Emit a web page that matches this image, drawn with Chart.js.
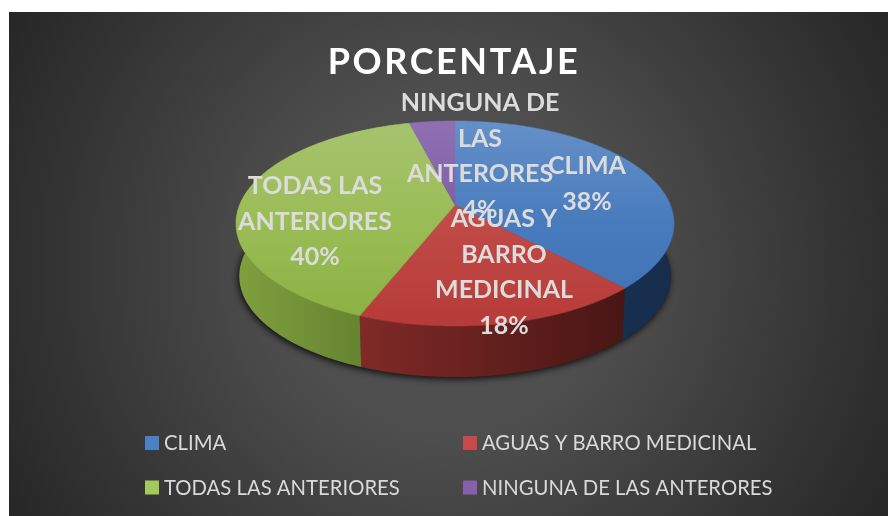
<!DOCTYPE html>
<html><head><meta charset="utf-8">
<style>html,body{margin:0;padding:0;background:#fff;overflow:hidden}canvas{display:block}</style>
<script src="https://cdn.jsdelivr.net/npm/chart.js@4/dist/chart.umd.min.js"></script>
</head><body>
<canvas id="c" width="888" height="516"></canvas>
<script>
const titleText = 'PORCENTAJE';
const categories = ['CLIMA', 'AGUAS Y BARRO MEDICINAL', 'TODAS LAS ANTERIORES', 'NINGUNA DE LAS ANTERORES'];
const values = [38, 18, 40, 4];
const labelLines = [['CLIMA'], ['AGUAS Y', 'BARRO', 'MEDICINAL'], ['TODAS LAS', 'ANTERIORES'], ['NINGUNA DE', 'LAS', 'ANTERORES']];
const swatchColors = ['#4a80c4', '#c8494a', '#a3c95c', '#8460ad'];
const topColors = [['#6590c8', '#487bbd', '#3d72b5'], ['#cc605c', '#c04a46', '#b73b38'], ['#a6c46f', '#9abc55', '#8cb043'], ['#8f71b2', '#7f5ba4', '#78519d']];
const wallColors = [['#1d3759', '#162d4c'], ['#802a27', '#481614'], ['#80a03e', '#5d782a'], ['#5a4075', '#4a3362']];
const labelCenters = [[587, 166], [504, 219], [315, 186], [480, 103]];
const legendPos = [[145, 443.5], [463, 443.5], [145, 488], [463, 488]];
const LINE = 35.5;

const P = {cx: 455, ay: 205, A: 215.4, B: 99.2, k: 0.1805, depthY: 52.8, depthS: 0.985};
function proj(theta, bottom) {
  const s = Math.sin(theta), c = Math.cos(theta), w = 1 + P.k * c;
  const x = P.A * s / w, y = -P.B * c / w;
  return bottom ? [P.cx + x * P.depthS, P.ay + P.depthY + y * P.depthS] : [P.cx + x, P.ay + y];
}
function arcPts(a0, a1, bottom) {
  const n = Math.max(2, Math.ceil((a1 - a0) / 0.01)), pts = [];
  for (let i = 0; i <= n; i++) pts.push(proj(a0 + (a1 - a0) * i / n, bottom));
  return pts;
}
function poly(ctx, pts) {
  ctx.beginPath();
  pts.forEach((p, i) => i ? ctx.lineTo(p[0], p[1]) : ctx.moveTo(p[0], p[1]));
  ctx.closePath();
}
const pie3d = {
  id: 'pie3d',
  beforeDraw(chart) {
    const ctx = chart.ctx;
    ctx.fillStyle = '#fff';
    ctx.fillRect(0, 0, 888, 516);
    const g = ctx.createRadialGradient(449, 264, 0, 449, 264, 510);
    g.addColorStop(0, '#565656');
    g.addColorStop(0.35, '#4d4d4d');
    g.addColorStop(1, '#262626');
    ctx.fillStyle = g;
    ctx.fillRect(9, 12, 879, 504);
    ctx.letterSpacing = '2.6px';
  },
  beforeDatasetsDraw(chart) {
    const ctx = chart.ctx;
    ctx.letterSpacing = '0px';
    const arcs = chart.getDatasetMeta(0).data;
    const span = arcs.map(a => [a.startAngle + Math.PI / 2, a.endAngle + Math.PI / 2]);
    ctx.save();
    ctx.shadowColor = 'rgba(0,0,0,0.85)';
    ctx.shadowBlur = 7;
    ctx.shadowOffsetX = -1;
    ctx.shadowOffsetY = 2;
    ctx.fillStyle = '#222';
    poly(ctx, arcPts(0, Math.PI * 2, true));
    ctx.fill();
    ctx.restore();
    span.forEach((s, i) => {
      const top = arcPts(s[0], s[1], false), bot = arcPts(s[0], s[1], true);
      const xs = top.concat(bot).map(p => p[0]);
      const g = ctx.createLinearGradient(Math.min(...xs), 0, Math.max(...xs), 0);
      g.addColorStop(0, wallColors[i][0]);
      g.addColorStop(1, wallColors[i][1]);
      ctx.fillStyle = g;
      poly(ctx, top.concat(bot.reverse()));
      ctx.fill();
    });
    span.forEach((s, i) => {
      const g = ctx.createLinearGradient(0, 121, 0, 326);
      g.addColorStop(0, topColors[i][0]);
      g.addColorStop(0.5, topColors[i][1]);
      g.addColorStop(1, topColors[i][2]);
      ctx.fillStyle = g;
      ctx.strokeStyle = g;
      ctx.lineWidth = 0.5;
      poly(ctx, [[P.cx, P.ay]].concat(arcPts(s[0], s[1], false)));
      ctx.fill();
      ctx.stroke();
    });
    return false;
  },
  afterDraw(chart) {
    const ctx = chart.ctx;
    const total = values.reduce((a, b) => a + b, 0);
    ctx.save();
    ctx.textAlign = 'center';
    ctx.textBaseline = 'middle';
    ctx.font = 'bold 25px Lato';
    ctx.fillStyle = '#dcdcdc';
    [3, 0, 1, 2].forEach(i => {
      const lines = labelLines[i].concat(Math.round(values[i] / total * 100) + '%');
      lines.forEach((t, j) => ctx.fillText(t, labelCenters[i][0], labelCenters[i][1] + j * LINE));
    });
    ctx.textAlign = 'left';
    ctx.font = '20.3px Lato';
    categories.forEach((t, i) => {
      const [x, y] = legendPos[i];
      ctx.fillStyle = swatchColors[i];
      ctx.fillRect(x, y - 7.5, 14, 14);
      ctx.fillStyle = '#d9d9d9';
      ctx.fillText(t, x + 19, y);
    });
    ctx.restore();
  }
};
new Chart(document.getElementById('c'), {
  type: 'pie',
  data: {labels: categories, datasets: [{data: values, backgroundColor: swatchColors, borderWidth: 0}]},
  options: {
    responsive: false,
    animation: false,
    layout: {padding: {left: 20, top: 41}},
    plugins: {
      legend: {display: false},
      tooltip: {enabled: false},
      title: {display: true, text: titleText, color: '#ffffff', font: {family: 'Lato', size: 36, weight: 'bold'}, padding: 0}
    }
  },
  plugins: [pie3d]
});
</script>
</body></html>
